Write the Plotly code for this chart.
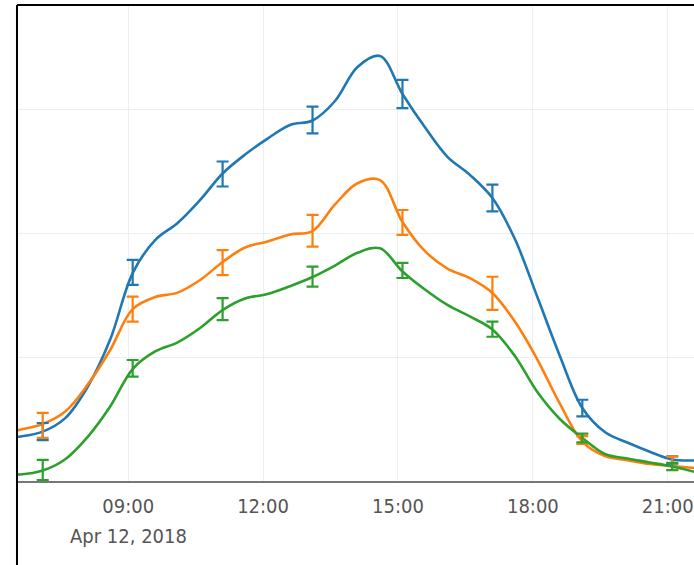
import plotly.graph_objects as go

# Line series: 30-minute samples (Apr 12, 2018)
line_times = [
    "2018-04-12 06:06", "2018-04-12 06:36", "2018-04-12 07:06", "2018-04-12 07:36",
    "2018-04-12 08:06", "2018-04-12 08:36", "2018-04-12 09:06", "2018-04-12 09:36",
    "2018-04-12 10:06", "2018-04-12 10:36", "2018-04-12 11:06", "2018-04-12 11:36",
    "2018-04-12 12:06", "2018-04-12 12:36", "2018-04-12 13:06", "2018-04-12 13:36",
    "2018-04-12 14:06", "2018-04-12 14:36", "2018-04-12 15:06", "2018-04-12 15:36",
    "2018-04-12 16:06", "2018-04-12 16:36", "2018-04-12 17:06", "2018-04-12 17:36",
    "2018-04-12 18:06", "2018-04-12 18:36", "2018-04-12 19:06", "2018-04-12 19:36",
    "2018-04-12 20:06", "2018-04-12 20:36", "2018-04-12 21:06", "2018-04-12 21:36",
]
blue_line = [34.8, 36.0, 39.9, 50.8, 76.2, 114.3, 168.1, 194.8, 208.6, 227.2, 248.6, 263.9,
             276.8, 287.8, 291.4, 307.2, 334.7, 343.6, 312.9, 285.9, 262.1, 247.5, 228.8, 195.6,
             148.7, 101.1, 59.0, 39.6, 31.1, 23.7, 17.4, 16.6]
orange_line = [38.8, 41.5, 46.1, 56.2, 77.9, 105.9, 139.0, 148.7, 152.3, 162.5, 177.0, 188.8,
               193.6, 199.3, 202.1, 223.6, 240.7, 243.3, 209.4, 185.8, 171.7, 164.0, 152.0, 128.9,
               98.2, 62.5, 31.9, 20.2, 16.8, 13.7, 12.1, 10.5]
green_line = [5.7, 5.3, 8.5, 17.6, 35.7, 60.2, 90.5, 104.7, 112.1, 123.7, 138.2, 147.5,
              151.1, 157.5, 164.9, 174.2, 184.5, 188.1, 169.4, 154.8, 142.3, 133.0, 122.5, 101.1,
              71.9, 50.1, 34.8, 21.8, 18.2, 15.0, 11.7, 7.3]

# Error-bar series: 2-hour summaries
err_times = ["2018-04-12 07:06", "2018-04-12 09:06", "2018-04-12 11:06", "2018-04-12 13:06",
             "2018-04-12 15:06", "2018-04-12 17:06", "2018-04-12 19:06", "2018-04-12 21:06"]
blue_mean = [40.0, 168.6, 248.2, 291.8, 312.9, 228.8, 59.0, 17.0]
blue_err = [6.9, 10.1, 10.1, 10.8, 11.4, 10.8, 6.7, 3.0]
orange_mean = [44.9, 138.9, 176.6, 202.3, 209.0, 151.7, 33.1, 14.3]
orange_err = [10.1, 10.1, 10.1, 12.8, 10.1, 13.4, 3.2, 5.4]
green_mean = [8.9, 91.1, 139.0, 165.2, 170.2, 122.7, 34.8, 11.7]
green_err = [8.1, 6.7, 8.9, 8.1, 6.1, 6.1, 3.5, 3.0]

date_label = "Apr 12, 2018"
date_label_at = "2018-04-12 09:00"

colors = ["#1f77b4", "#ff7f0e", "#2ca02c"]
tick_font = dict(family="DejaVu Sans Condensed, DejaVu Sans", size=20, color="#555555")

fig = go.Figure()
series = [(blue_line, blue_mean, blue_err), (orange_line, orange_mean, orange_err),
          (green_line, green_mean, green_err)]
for (ln, mn, er), c in zip(series, colors):
    fig.add_trace(go.Scatter(x=line_times, y=ln, mode="lines",
                             line=dict(color=c, width=2.6, shape="spline", smoothing=1.0),
                             hoverinfo="skip"))
for (ln, mn, er), c in zip(series, colors):
    fig.add_trace(go.Scatter(x=err_times, y=mn, mode="markers",
                             marker=dict(size=1, opacity=0, color=c),
                             error_y=dict(type="data", array=er, visible=True,
                                          color=c, thickness=2.2, width=6)))

fig.update_layout(
    width=694, height=565,
    margin=dict(l=18, r=0, t=6, b=84),
    paper_bgcolor="white", plot_bgcolor="white",
    showlegend=False,
    xaxis=dict(type="date",
               range=["2018-04-12 06:33", "2018-04-12 21:35"],
               tick0="2018-04-12 00:00", dtick=3 * 3600 * 1000,
               tickformat="%H:%M",
               showgrid=True, gridcolor="#eeeeee", gridwidth=1,
               showline=True, linecolor="#777777", linewidth=2,
               ticks="", zeroline=False, ticklabelstandoff=6,
               tickfont=tick_font),
    yaxis=dict(range=[0, 384], tick0=0, dtick=100,
               showgrid=True, gridcolor="#eeeeee", gridwidth=1,
               showticklabels=False, zeroline=False, showline=False, ticks=""),
    annotations=[dict(x=date_label_at, xref="x", y=-0.116, yref="paper",
                      text=date_label, showarrow=False, yanchor="middle",
                      xanchor="center", font=tick_font)],
    shapes=[
        dict(type="line", xref="paper", yref="paper", x0=-0.0015, x1=1.0, y0=1.002, y1=1.002,
             line=dict(color="black", width=2)),
        dict(type="line", xref="paper", yref="paper", x0=-0.0015, x1=-0.0015, y0=-0.2, y1=1.002,
             line=dict(color="black", width=2)),
    ],
)

fig.write_html("out.html", config={"displayModeBar": False},
               post_script="document.body.style.margin='0';")
